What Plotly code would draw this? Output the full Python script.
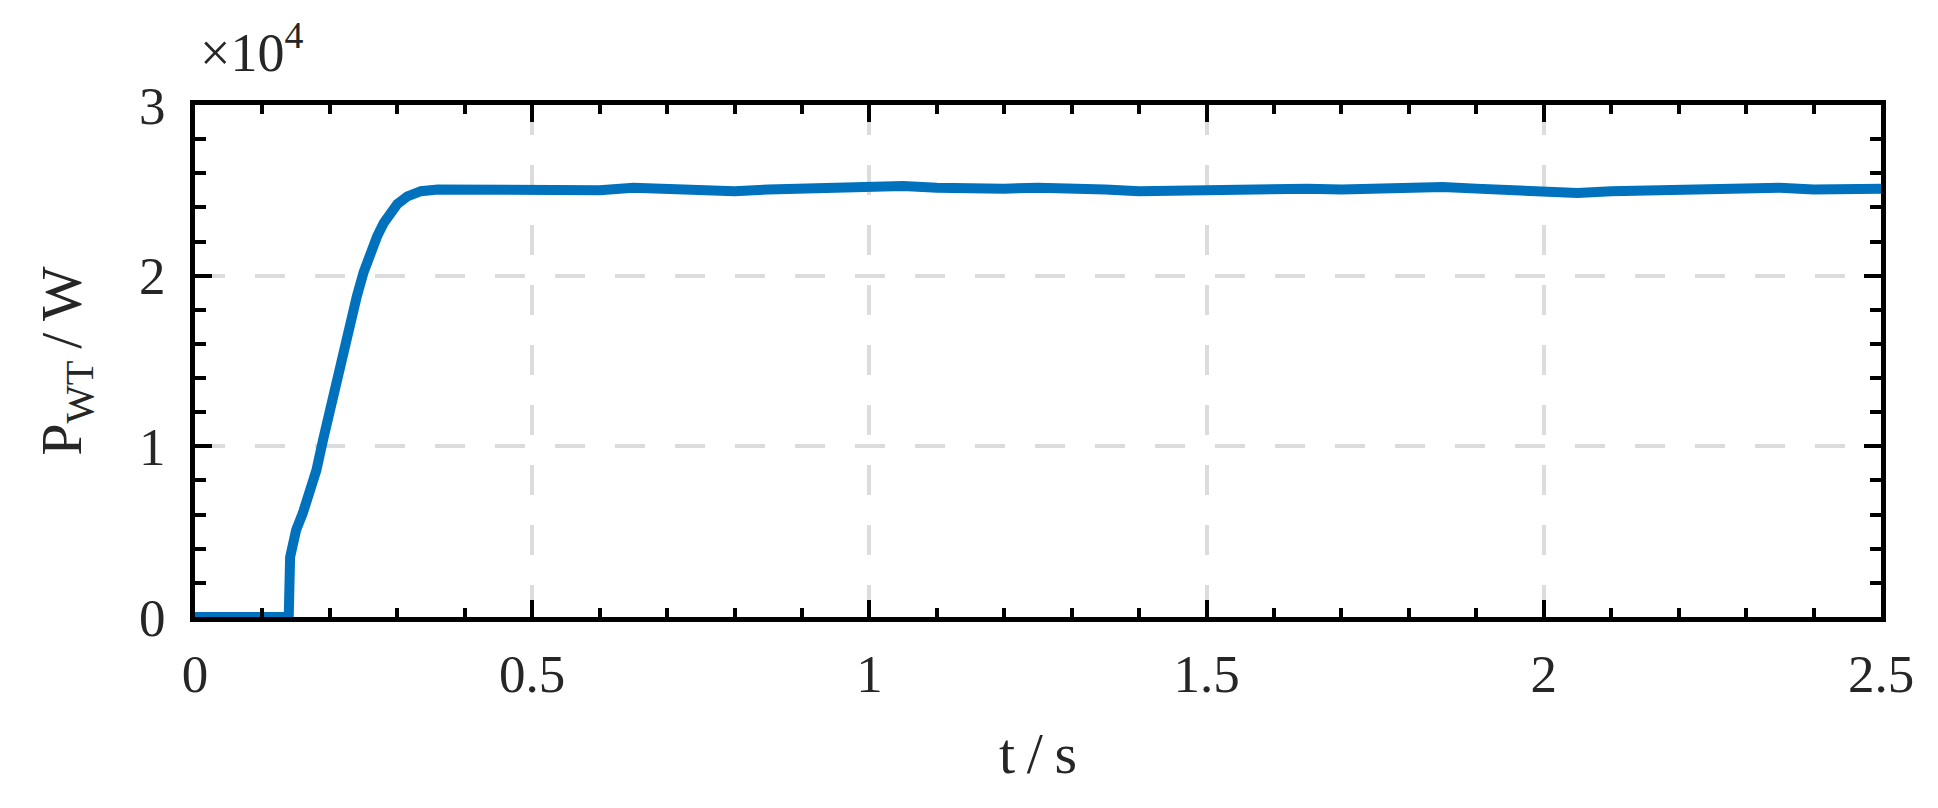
import plotly.graph_objects as go

# --- data (t in s, P in W) ---
t_ramp = [0.0, 0.139, 0.141, 0.150, 0.160, 0.170, 0.180, 0.190, 0.200,
          0.210, 0.220, 0.230, 0.240, 0.250, 0.260, 0.270, 0.280, 0.290,
          0.300, 0.315, 0.335, 0.360]
p_ramp = [0, 0, 3500, 5100, 6100, 7200, 8600, 10400, 12200,
          14000, 15800, 17400, 18800, 20200, 21400, 22300, 23100, 23700,
          24200, 24650, 24950, 25050]

t_flat = [0.40, 0.45, 0.50, 0.55, 0.60, 0.65, 0.70, 0.75, 0.80, 0.85,
          0.90, 0.95, 1.00, 1.05, 1.10, 1.15, 1.20, 1.25, 1.30, 1.35,
          1.40, 1.45, 1.50, 1.55, 1.60, 1.65, 1.70, 1.75, 1.80, 1.85,
          1.90, 1.95, 2.00, 2.05, 2.10, 2.15, 2.20, 2.25, 2.30, 2.35,
          2.40, 2.45, 2.50]
p_flat = [25050, 25100, 25100, 25050, 25000, 25150, 25100, 25050, 24950, 25050,
          25100, 25200, 25300, 25250, 25150, 25100, 25100, 25150, 25150, 25050,
          24950, 25000, 24950, 25000, 25050, 25100, 25050, 25100, 25150, 25200,
          25100, 25050, 25000, 24850, 24950, 25000, 25050, 25050, 25100, 25150,
          25050, 25050, 25100]

x_ticks = [0, 0.5, 1, 1.5, 2, 2.5]
x_labels = ["0", "0.5", "1", "1.5", "2", "2.5"]
y_ticks = [0, 10000, 20000, 30000]
y_labels = ["0", "1", "2", "3"]

FONT = "Liberation Serif"
TXT = "#262626"

fig = go.Figure()
fig.add_trace(go.Scatter(
    x=t_ramp + t_flat, y=p_ramp + p_flat,
    mode="lines", line=dict(color="#0072BD", width=10),
    showlegend=False, cliponaxis=False,
))

axis_common = dict(
    showline=True, linecolor="black", linewidth=5, mirror="ticks",
    ticks="inside", ticklen=17, tickwidth=4, tickcolor="black",
    showgrid=True, gridcolor="#dcdcdc", gridwidth=4, griddash="30px,30px",
    zeroline=False,
    tickfont=dict(family=FONT, size=53, color=TXT),
)

fig.update_xaxes(
    range=[0, 2.5], tickvals=x_ticks, ticktext=x_labels,
    minor=dict(dtick=0.1, ticks="inside", ticklen=9, tickwidth=4,
               tickcolor="black", showgrid=False),
    title=dict(text="t\u2009/\u2009s", font=dict(family=FONT, size=58, color=TXT),
               standoff=32),
    ticklabelstandoff=6,
    **axis_common,
)
fig.update_yaxes(
    range=[0, 30000], tickvals=y_ticks, ticktext=y_labels,
    minor=dict(dtick=2000, ticks="inside", ticklen=11, tickwidth=4,
               tickcolor="black", showgrid=False),
    title=dict(text="P<sub>WT</sub>\u2009/\u2009W",
               font=dict(family=FONT, size=58, color=TXT), standoff=40),
    ticklabelstandoff=14,
    **axis_common,
)

fig.add_annotation(
    text="×10<sup>4</sup>", xref="paper", yref="paper",
    x=0.002, y=1.04, xanchor="left", yanchor="bottom", showarrow=False,
    font=dict(family=FONT, size=54, color=TXT),
)

fig.update_layout(
    width=1938, height=808,
    margin=dict(l=187, r=65, t=97, b=199),
    plot_bgcolor="white", paper_bgcolor="white",
)

fig.write_html("out.html")
